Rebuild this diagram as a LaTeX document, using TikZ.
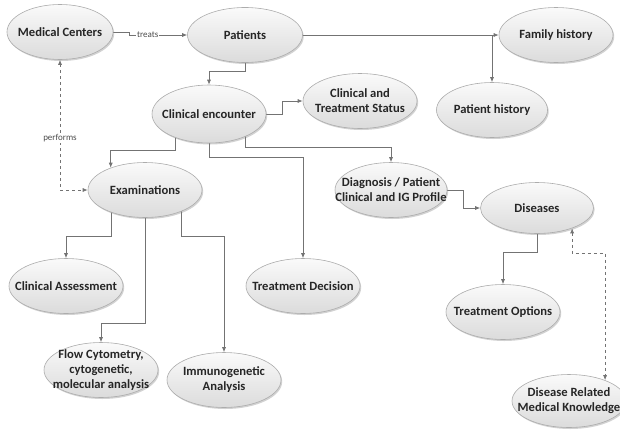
\documentclass[tikz,border=0pt]{standalone}
\usepackage{fontspec}
\setmainfont{Carlito}
\usetikzlibrary{arrows.meta,shadows,backgrounds,shapes.geometric}
\begin{document}
\begin{tikzpicture}[x=1pt,y=-1pt,
  ell/.style={ellipse, draw=gray!65, line width=0.6pt, top color=gray!4, bottom color=gray!28,
    minimum width=114pt, minimum height=55pt, inner sep=0pt,
    drop shadow={shadow xshift=1.2pt, shadow yshift=-1.5pt, opacity=0.35, fill=gray}},
  txt/.style={align=center, inner sep=0pt, font=\fontsize{12.6}{15}\selectfont\bfseries, text=black!85},
  conn/.style={draw=black!55, line width=0.7pt, -{Latex[length=5pt,width=4pt]}},
  dconn/.style={draw=black!55, line width=0.7pt, dashed, {Latex[length=5pt,width=4pt]}-{Latex[length=5pt,width=4pt]}},
  lbl/.style={fill=white, inner sep=1pt, font=\fontsize{9}{10}\selectfont, text=black!70}]
\useasboundingbox (0,0) rectangle (620,429);

\node[ell, minimum width=106pt] (mc) at (60,32) {};
\node[txt] (mct) at (mc) {Medical Centers};
\node[ell, minimum width=115pt] (pat) at (245,35) {};
\node[txt] (patt) at (pat) {Patients};
\node[ell] (fam) at (556,35) {};
\node[txt] (famt) at (fam) {Family history};
\node[ell, minimum width=111pt] (ph) at (492,110) {};
\node[txt] (pht) at (ph) {Patient history};
\node[ell, minimum height=58pt] (ce) at (209,114) {};
\node[txt] (cet) at (ce) {Clinical encounter};
\node[ell] (cts) at (360,101) {};
\node[txt] (ctst) at (cts) {Clinical and\\Treatment Status};
\node[ell] (ex) at (145,190) {};
\node[txt] (ext) at (ex) {Examinations};
\node[ell, minimum width=112pt] (dg) at (391,190) {};
\node[txt] (dgt) at (dg) {Diagnosis / Patient\\Clinical and IG Profile};
\node[ell, minimum width=113pt, minimum height=51pt] (dis) at (537,208) {};
\node[txt] (dist) at (dis) {Diseases};
\node[ell] (ca) at (66,286) {};
\node[txt] (cat) at (ca) {Clinical Assessment};
\node[ell] (td) at (303,286) {};
\node[txt] (tdt) at (td) {Treatment Decision};
\node[ell] (to) at (503,312) {};
\node[txt] (tot) at (to) {Treatment Options};
\node[ell] (fc) at (101,370) {};
\node[txt] (fct) at (fc) {Flow Cytometry,\\cytogenetic,\\molecular analysis};
\node[ell] (im) at (224,380) {};
\node[txt] (imt) at (im) {Immunogenetic\\Analysis};
\node[ell, minimum height=53pt] (dk) at (569,401) {};
\node[txt] (dkt) at (dk) {Disease Related\\Medical Knowledge};

\begin{scope}[on background layer]
\fill[white] (0,0) rectangle (620,429);
\draw[conn] (mc.east) -- ++(16,0) |- node[lbl,pos=0.66] (treats) {treats} (pat.west);
\draw[conn] (pat.east) -- (fam.west);
\coordinate (br) at (ph.north |- pat.east);
\draw[conn] (br) -- (ph.north);
\draw[conn] (pat.south) -- ++(0,9) -| (ce.north);
\draw[conn] (ce.east) -- ++(16,0) |- (cts.west);
\draw[conn] ([xshift=-34pt]ce.center) -- ++(0,36) -| (ex.147);
\draw[conn] (ce.center) -- ++(0,43) -| (td.north);
\draw[conn] ([xshift=36pt]ce.center) -- ++(0,33) -| (dg.north);
\draw[conn] (dg.east) -- ++(16,0) |- (dis.west);
\draw[conn] (dis.south) -- ++(0,19) -| (to.north);
\draw[dconn] (dis.330) -- ++(0,25) -| (dk.30);
\draw[dconn] (mc.south) |- node[lbl,pos=0.3] (perf) {performs} (ex.west);
\draw[conn] ([xshift=-34pt]ex.center) -- ++(0,46) -| (ca.north);
\draw[conn] (ex.center) -- ++(0,133) -| (fc.north);
\draw[conn] ([xshift=36pt]ex.center) -- ++(0,46) -| (im.north);
\end{scope}
\end{tikzpicture}
\end{document}
